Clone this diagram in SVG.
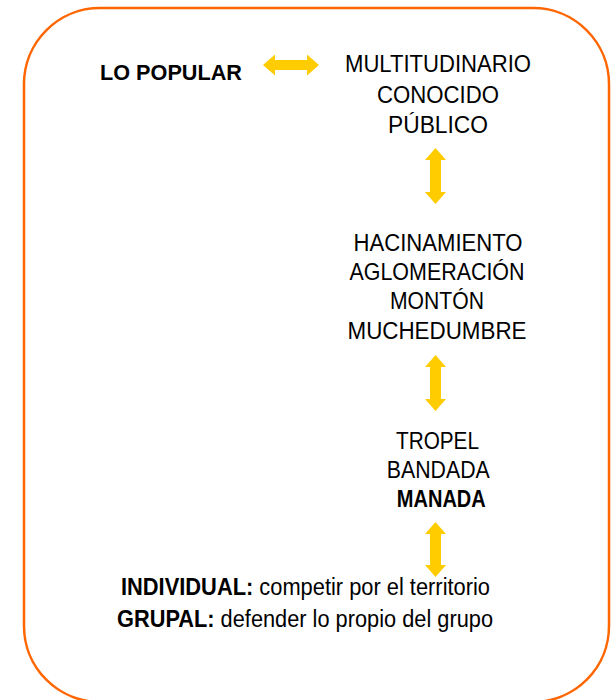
<svg xmlns="http://www.w3.org/2000/svg" width="611" height="700" viewBox="0 0 611 700">
<style>
.t{font-family:"Liberation Sans",Arial,sans-serif;font-size:24.5px;fill:#000;text-anchor:middle}
.b{font-weight:bold}
.s{font-size:23px}
.lp{font-size:22px}
.arr{fill:#FFCC00}
</style>
<rect width="611" height="700" fill="#fff"/>
<rect id="frame" x="24" y="8" width="585" height="694" rx="76" ry="76" fill="none" stroke="#FF6600" stroke-width="2.5"/>
<g id="connectors">
<polygon class="arr" points="263,65 275,54.5 275,60 307,60 307,54.5 319,65 307,75.5 307,70 275,70 275,75.5"/>
<polygon class="arr" points="435.5,148 446,160 441,160 441,192 446,192 435.5,204 425,192 430,192 430,160 425,160"/>
<polygon class="arr" points="435.5,355 446,367 441,367 441,399 446,399 435.5,411 425,399 430,399 430,367 425,367"/>
<polygon class="arr" points="435.5,522 446,534 441,534 441,565 446,565 435.5,577 425,565 430,565 430,534 425,534"/>
</g>
<g id="lo-popular"><text class="t b lp" x="171" y="80" textLength="142" lengthAdjust="spacingAndGlyphs">LO POPULAR</text></g>
<g id="multitudinario">
<text class="t" x="438" y="72" textLength="186" lengthAdjust="spacingAndGlyphs">MULTITUDINARIO</text>
<text class="t" x="438" y="102.5" textLength="122" lengthAdjust="spacingAndGlyphs">CONOCIDO</text>
<text class="t" x="438" y="133" textLength="100" lengthAdjust="spacingAndGlyphs">PÚBLICO</text>
</g>
<g id="hacinamiento">
<text class="t" x="438" y="250.7" textLength="169" lengthAdjust="spacingAndGlyphs">HACINAMIENTO</text>
<text class="t" x="437" y="280" textLength="175" lengthAdjust="spacingAndGlyphs">AGLOMERACIÓN</text>
<text class="t" x="437" y="309.3" textLength="94" lengthAdjust="spacingAndGlyphs">MONTÓN</text>
<text class="t" x="437" y="338.5" textLength="179" lengthAdjust="spacingAndGlyphs">MUCHEDUMBRE</text>
</g>
<g id="tropel">
<text class="t" x="437.5" y="449.3" textLength="83" lengthAdjust="spacingAndGlyphs">TROPEL</text>
<text class="t" x="438.3" y="478.3" textLength="103" lengthAdjust="spacingAndGlyphs">BANDADA</text>
<text class="t b" x="441.3" y="507.3" textLength="89" lengthAdjust="spacingAndGlyphs">MANADA</text>
</g>
<g id="individual-grupal">
<text class="t s" x="305.5" y="595" textLength="369" lengthAdjust="spacingAndGlyphs"><tspan class="b">INDIVIDUAL:</tspan> competir por el territorio</text>
<text class="t s" x="305" y="627" textLength="376" lengthAdjust="spacingAndGlyphs"><tspan class="b">GRUPAL:</tspan> defender lo propio del grupo</text>
</g>
</svg>
